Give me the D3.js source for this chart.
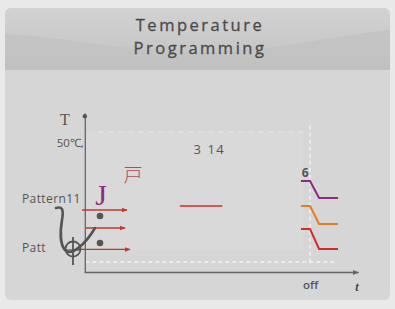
<!DOCTYPE html>
<html><head><meta charset="utf-8">
<script src="https://cdn.jsdelivr.net/npm/d3@7"></script>
<style>html,body{margin:0;padding:0;background:#e9e9e9;}svg{display:block;}</style>
</head><body>
<script>
// ---- data ----
const titleLines = ["Temperature", "Programming"];
const seriesNames = ["purple", "orange", "red"];
const seriesColors = ["#8e2a82", "#ee7a1c", "#d42a28"];
const stepTimes = [79.2, 82.5, 85.8, 92.7];
const purpleTemps = [57.2, 57.2, 46.5, 46.5];
const orangeTemps = [41.5, 41.5, 30.2, 30.2];
const redTemps = [27.0, 27.0, 14.5, 14.5];
const midSegTimes = [35, 50.5];
const midSegTemps = [41.5, 41.5];
const arrowTemps = [39.0, 27.7, 14.2];
const arrowStarts = [-0.7, 0.7, -2.6];
const arrowEnds = [15.7, 15.0, 16.8];
const dotTemps = [35.2, 18.2];
const yTickLabel = "50℃,";
const yTickValue = 81;
const xTickLabel = "off";
const xTickValue = 82.5;
const annotations = [{t: "3 14", x: 40.0, y: 74}, {t: "6", x: 79.5, y: 59.5}];

const W = 395, H = 309;
const svg = d3.select("body").append("svg").attr("width", W).attr("height", H);
const defs = svg.append("defs");
const g1 = defs.append("linearGradient").attr("id", "hdr").attr("x1", 0).attr("y1", 0).attr("x2", 0).attr("y2", 1);
g1.append("stop").attr("offset", "0%").attr("stop-color", "#d2d2d2");
g1.append("stop").attr("offset", "45%").attr("stop-color", "#cbcbcb");
g1.append("stop").attr("offset", "100%").attr("stop-color", "#c0c0c0");
const mk = defs.append("marker").attr("id", "arr").attr("viewBox", "0 0 10 10").attr("refX", 9).attr("refY", 5)
  .attr("markerWidth", 4).attr("markerHeight", 4).attr("orient", "auto");
mk.append("path").attr("d", "M0,1L10,5L0,9Z").attr("fill", "#c0392b");
const mk2 = defs.append("marker").attr("id", "arrg").attr("viewBox", "0 0 10 10").attr("refX", 9).attr("refY", 5)
  .attr("markerWidth", 5).attr("markerHeight", 5).attr("orient", "auto");
mk2.append("path").attr("d", "M0,1L10,5L0,9Z").attr("fill", "#666");

// panel
svg.append("rect").attr("x", 5).attr("y", 8).attr("width", 385).attr("height", 292).attr("rx", 6).attr("fill", "#d6d6d6");
svg.append("rect").attr("x", 5).attr("y", 8).attr("width", 385).attr("height", 62).attr("rx", 6).attr("fill", "url(#hdr)");
svg.append("path").attr("d", "M5,34 C60,36 120,52 200,52 C280,52 340,34 390,30 L390,70 L5,70 Z").attr("fill", "#c2c2c2").attr("opacity", 0.8);
svg.append("rect").attr("x", 5).attr("y", 64).attr("width", 385).attr("height", 6).attr("fill", "#c0c0c0");
svg.selectAll("text.title").data(titleLines).join("text").attr("class", "title")
  .attr("x", 200).attr("y", (d, i) => 31 + i * 23).attr("text-anchor", "middle")
  .attr("font-family", "Open Sans, sans-serif").attr("font-size", 16.5).attr("letter-spacing", 2.5)
  .attr("font-weight", 400).attr("fill", "#4a4a4a").attr("stroke", "#4a4a4a").attr("stroke-width", 0.3).text(d => d);

// scales
const x = d3.scaleLinear().domain([0, 100]).range([84, 358]);
const y = d3.scaleLinear().domain([0, 100]).range([272, 113]);

// faint plot area
svg.append("rect").attr("x", x(0.5)).attr("y", y(88)).attr("width", x(80) - x(0.5)).attr("height", y(14) - y(88)).attr("fill", "#d9d9d9");
// dashed white guides
svg.append("line").attr("x1", x(0.5)).attr("x2", x(92)).attr("y1", y(6.3)).attr("y2", y(6.3))
  .attr("stroke", "#f4f4f4").attr("stroke-width", 1.3).attr("stroke-dasharray", "4,3");
svg.append("line").attr("x1", x(xTickValue)).attr("x2", x(xTickValue)).attr("y1", y(92)).attr("y2", y(4))
  .attr("stroke", "#f4f4f4").attr("stroke-width", 1.3).attr("stroke-dasharray", "4,3");
svg.append("line").attr("x1", x(5)).attr("x2", x(82)).attr("y1", y(88)).attr("y2", y(88))
  .attr("stroke", "#e6e6e6").attr("stroke-width", 1).attr("stroke-dasharray", "6,4");

// axes
const xAxis = svg.append("g").attr("transform", `translate(0,${y(0)})`)
  .call(d3.axisBottom(x).tickValues([xTickValue]).tickFormat(() => xTickLabel).tickSize(0).tickPadding(9));
xAxis.select(".domain").attr("stroke", "#666").attr("stroke-width", 1.3).attr("marker-end", "url(#arrg)");
xAxis.selectAll("text").attr("font-family", "Open Sans, sans-serif").attr("font-size", 11.5).attr("fill", "#555").attr("font-weight", 600);
const yAxis = svg.append("g").attr("transform", `translate(${x(0.3)},0)`)
  .call(d3.axisLeft(y).tickValues([yTickValue]).tickFormat(() => yTickLabel).tickSize(0).tickPadding(1));
yAxis.select(".domain").attr("stroke", "#666").attr("stroke-width", 1.3);
yAxis.selectAll("text").attr("font-family", "Open Sans, sans-serif").attr("font-size", 11.5).attr("fill", "#555").attr("dy", "0.25em");
svg.append("circle").attr("cx", x(0.3)).attr("cy", y(98)).attr("r", 2.2).attr("fill", "#555");
svg.append("text").attr("x", 65).attr("y", 125).attr("text-anchor", "middle").attr("font-family", "Liberation Serif, serif")
  .attr("font-size", 16).attr("fill", "#555").text("T");
svg.append("text").attr("x", 357).attr("y", 291).attr("text-anchor", "middle").attr("font-family", "Liberation Serif, serif")
  .attr("font-style", "italic").attr("font-weight", "bold").attr("font-size", 12).attr("fill", "#444").text("t");

// series
const seriesTemps = [purpleTemps, orangeTemps, redTemps];
const line = d3.line().x(d => x(d[0])).y(d => y(d[1]));
seriesTemps.forEach((temps, i) => {
  svg.append("path").attr("d", line(stepTimes.map((t, j) => [t, temps[j]])))
    .attr("fill", "none").attr("stroke", seriesColors[i]).attr("stroke-width", 2);
});
svg.append("path").attr("d", line(midSegTimes.map((t, j) => [t, midSegTemps[j]])))
  .attr("fill", "none").attr("stroke", "#d42a28").attr("stroke-width", 1.5);

// annotations
annotations.forEach((a, i) => {
  svg.append("text").attr("x", x(a.x)).attr("y", y(a.y)).attr("font-family", "Open Sans, sans-serif")
    .attr("font-size", i ? 12 : 13).attr("font-weight", i ? 700 : 400).attr("letter-spacing", i ? 0 : 1.5)
    .attr("fill", "#555").text(a.t);
});

// left legend-like glyphs
arrowTemps.forEach((v, i) => {
  svg.append("line").attr("x1", x(arrowStarts[i])).attr("x2", x(arrowEnds[i])).attr("y1", y(v)).attr("y2", y(v))
    .attr("stroke", "#c0392b").attr("stroke-width", 1.4).attr("marker-end", "url(#arr)");
});
dotTemps.forEach(v => svg.append("circle").attr("cx", 100).attr("cy", y(v)).attr("r", 3.3).attr("fill", "#555"));
svg.append("text").attr("x", 101).attr("y", 205).attr("text-anchor", "middle").attr("font-family", "Liberation Serif, serif")
  .attr("font-size", 30).attr("fill", "#8e2a82").text("J");
svg.append("text").attr("x", 133).attr("y", 182).attr("text-anchor", "middle").attr("font-family", "Noto Sans CJK JP, serif")
  .attr("font-size", 19).attr("font-weight", 300).attr("fill", "#b04a5a").text("戸");
svg.append("text").attr("x", 22).attr("y", 203).attr("font-family", "Open Sans, sans-serif").attr("font-size", 12).attr("letter-spacing", 0.4).attr("fill", "#555").text("Pattern11");
svg.append("text").attr("x", 22).attr("y", 252).attr("font-family", "Open Sans, sans-serif").attr("font-size", 12).attr("letter-spacing", 0.4).attr("fill", "#555").text("Patt");
svg.append("path").attr("d", "M56,208 C62,206 64,209 62,220 C60,232 60,246 66,251 C72,255 85,245 95,228")
  .attr("fill", "none").attr("stroke", "#555").attr("stroke-width", 2.6).attr("stroke-linecap", "round");
svg.append("circle").attr("cx", 73).attr("cy", 249).attr("r", 7.5).attr("fill", "none").attr("stroke", "#555").attr("stroke-width", 1.8);
svg.append("line").attr("x1", 73).attr("x2", 73).attr("y1", 237).attr("y2", 265).attr("stroke", "#555").attr("stroke-width", 1.8);
svg.append("line").attr("x1", 65).attr("x2", 81).attr("y1", 250).attr("y2", 250).attr("stroke", "#555").attr("stroke-width", 1.2);
</script>
</body></html>
